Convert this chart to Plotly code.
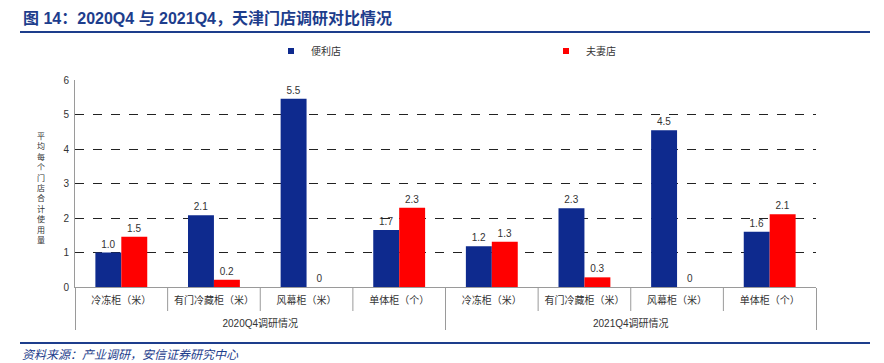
import plotly.graph_objects as go

groups = ["2020Q4调研情况"] * 4 + ["2021Q4调研情况"] * 4
categories = ["冷冻柜（米）", "有门冷藏柜（米）", "风幕柜（米）", "单体柜（个）"] * 2

conv_values = [1.00, 2.08, 5.46, 1.65, 1.18, 2.28, 4.54, 1.60]
conv_labels = ["1.0", "2.1", "5.5", "1.7", "1.2", "2.3", "4.5", "1.6"]
mom_values = [1.46, 0.21, 0.0, 2.30, 1.31, 0.28, 0.0, 2.11]
mom_labels = ["1.5", "0.2", "0", "2.3", "1.3", "0.3", "0", "2.1"]

y_ticks = [0, 1, 2, 3, 4, 5, 6]
y_title = "平均每个门店合计使用量"
title_text = "图 14：2020Q4 与 2021Q4，天津门店调研对比情况"
source_text = "资料来源：产业调研，安信证券研究中心"

FONT = "Liberation Sans, Arial, Noto Sans CJK SC"
BLUE = "#0e2a8e"
RED = "#ff0000"
DARK_BLUE = "#1d3d8c"

# page has an 8px body margin; work in reference page pixels and offset
OFF = 8
W, H = 884 - OFF, 363 - OFF
L, R, T, B = 75 - OFF, 68, 80 - OFF, 76
pw = W - L - R
ph = H - T - B

def px_x(x):
    return (x - OFF - L) / pw

def px_y(y):
    return (H - B - (y - OFF)) / ph

# inner labels get an extra blank line so the group labels sit lower, as in the reference
cat_axis_labels = [c + "<br>\u3000" for c in categories]
x_multi = [groups, cat_axis_labels]

fig = go.Figure()
fig.add_trace(go.Bar(
    name="便利店", x=x_multi, y=conv_values,
    text=conv_labels, textposition="outside", cliponaxis=False,
    textfont=dict(size=10, color="#333333", family=FONT),
    marker=dict(color=BLUE, line=dict(width=0)), showlegend=False,
))
fig.add_trace(go.Bar(
    name="夫妻店", x=x_multi, y=mom_values,
    text=mom_labels, textposition="outside", cliponaxis=False,
    textfont=dict(size=10, color="#333333", family=FONT),
    marker=dict(color=RED, line=dict(width=0)), showlegend=False,
))
fig.add_trace(go.Scatter(name="便利店", x=[None], y=[None], mode="markers",
                         marker=dict(symbol="square", size=6, color=BLUE),
                         legend="legend", showlegend=True))
fig.add_trace(go.Scatter(name="夫妻店", x=[None], y=[None], mode="markers",
                         marker=dict(symbol="square", size=6, color=RED),
                         legend="legend2", showlegend=True))

shapes = []
shapes.append(dict(type="line", xref="paper", yref="paper",
                   x0=px_x(20), x1=px_x(870), y0=px_y(32), y1=px_y(32),
                   line=dict(color=DARK_BLUE, width=2)))
shapes.append(dict(type="line", xref="paper", yref="paper",
                   x0=px_x(20), x1=px_x(870), y0=px_y(343), y1=px_y(343),
                   line=dict(color=DARK_BLUE, width=2)))
for i in [0.5, 1.5, 2.5, 4.5, 5.5, 6.5]:
    shapes.append(dict(type="line", xref="x", yref="paper",
                       x0=i, x1=i, y0=0, y1=px_y(311),
                       line=dict(color="#9a9a9a", width=1)))

annotations = []
annotations.append(dict(text="<b>" + title_text + "</b>", xref="paper", yref="paper",
                        x=px_x(21), y=px_y(18), xanchor="left", yanchor="middle",
                        showarrow=False,
                        font=dict(size=16, color=DARK_BLUE, family="Liberation Sans, Noto Sans CJK SC")))
annotations.append(dict(text="<i>" + source_text + "</i>", xref="paper", yref="paper",
                        x=px_x(20), y=px_y(353), xanchor="left", yanchor="middle",
                        showarrow=False,
                        font=dict(size=12, color=DARK_BLUE, family="Noto Sans CJK SC")))
annotations.append(dict(text="<br>".join(list(y_title)), xref="paper", yref="paper",
                        x=px_x(41), y=px_y(187), xanchor="center", yanchor="middle",
                        showarrow=False, align="center",
                        font=dict(size=8, color="#333333", family="Noto Sans CJK SC")))

fig.update_layout(
    width=W, height=H,
    margin=dict(l=L, r=R, t=T, b=B, pad=0),
    paper_bgcolor="white", plot_bgcolor="white",
    barmode="group", bargap=0.44, bargroupgap=0,
    font=dict(family=FONT, size=10, color="#333333"),
    showlegend=True,
    legend=dict(x=px_x(271), y=px_y(51), xanchor="left", yanchor="middle",
                itemwidth=30, font=dict(size=10, color="#333333", family=FONT),
                bgcolor="rgba(0,0,0,0)"),
    legend2=dict(x=px_x(546), y=px_y(51), xanchor="left", yanchor="middle",
                 itemwidth=30, font=dict(size=10, color="#333333", family=FONT),
                 bgcolor="rgba(0,0,0,0)"),
    shapes=shapes,
    annotations=annotations,
)
fig.update_xaxes(
    type="multicategory", showline=True, linecolor="#9a9a9a", linewidth=1,
    showgrid=False, ticks="", ticklabelstandoff=4,
    showdividers=True, dividercolor="#9a9a9a", dividerwidth=1,
    tickfont=dict(size=10, color="#333333", family=FONT),
    automargin=False,
)
fig.update_yaxes(
    range=[0, 6], tickvals=y_ticks, showline=True, linecolor="#9a9a9a", linewidth=1,
    showgrid=True, gridcolor="#222222", gridwidth=1, griddash="dash",
    zeroline=False, ticks="outside", ticklen=3, tickcolor="rgba(0,0,0,0)",
    tickfont=dict(size=10, color="#333333", family=FONT),
    automargin=False,
)

fig.write_html("out.html")
